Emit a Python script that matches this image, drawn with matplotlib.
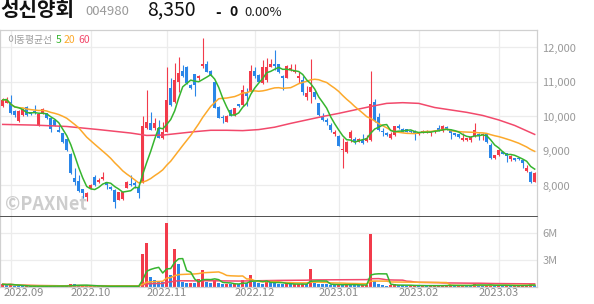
import numpy as np
import pandas as pd
import matplotlib
matplotlib.use('Agg')
import matplotlib.pyplot as plt
import matplotlib.transforms as mtransforms

plt.rcParams['font.family'] = ['Noto Sans CJK KR', 'DejaVu Sans']

# daily candles, 2022-08-30 .. 2023-03-15 (index = trading day)
opens = [10310, 10400, 10430, 10160, 9870, 10040, 10280, 10120, 10160, 9750,
         10090, 10090, 9950, 9900, 9610, 9510, 9350, 8920, 8230, 8130,
         7900, 7680, 7920, 8260, 8090, 8180, 8090, 7970, 7870, 7590,
         7610, 7940, 8030, 8060, 7970, 8090, 9660, 9800, 9660, 9680,
         9370, 9560, 10820, 10430, 11010, 11320, 11440, 10910, 11220, 11130,
         11470, 11510, 11320, 11010, 10280, 9990, 9850, 10190, 10040, 10350,
         10330, 10670, 10720, 11320, 11200, 10960, 11060, 11440, 11510, 11510,
         11170, 11130, 11350, 11280, 11110, 11060, 10570, 10700, 10700, 10380,
         9990, 9900, 9750, 9480, 9440, 9030, 8960, 9370, 9360, 9270,
         9320, 9290, 9320, 10410, 9990, 9580, 9530, 9390, 9460, 9720,
         9640, 9630, 9590, 9580, 9480, 9540, 9540, 9510, 9540, 9680,
         9580, 9700, 9610, 9510, 9480, 9310, 9310, 9320, 9420, 9500,
         9450, 9480, 9170, 8790, 8870, 8980, 8930, 8770, 8790, 8810,
         8740, 8420, 8380, 8110]
highs = [10530, 10560, 10620, 10180, 10180, 10240, 10300, 10140, 10330, 10080,
         10240, 10110, 9970, 9920, 9750, 9520, 9360, 8940, 8500, 8310,
         7910, 7820, 8030, 8300, 8210, 8380, 8110, 7990, 7900, 7820,
         7820, 8130, 8300, 8130, 8010, 10000, 10770, 10140, 9950, 9900,
         9850, 11420, 11110, 11540, 11730, 11490, 11460, 10930, 11230, 11200,
         12270, 11610, 11340, 11030, 10300, 10040, 10040, 10210, 10260, 10370,
         10910, 10820, 11490, 11440, 11220, 11640, 11690, 11670, 11930, 11530,
         11190, 11480, 11510, 11510, 11280, 11180, 10870, 11670, 10770, 10400,
         10090, 9950, 9800, 9610, 9460, 9370, 9290, 9610, 9400, 9370,
         9480, 9460, 11320, 10510, 10090, 9660, 9560, 9560, 9730, 9770,
         9660, 9650, 9610, 9610, 9560, 9600, 9600, 9580, 9610, 9750,
         9750, 9720, 9630, 9530, 9500, 9510, 9390, 9430, 9800, 9520,
         9510, 9500, 9220, 8890, 9060, 9000, 8950, 8870, 8810, 8830,
         8760, 8600, 8420, 8400]
lows = [10280, 10380, 10060, 9990, 9830, 10020, 10020, 10040, 10070, 9730,
        10070, 9930, 9540, 9710, 9540, 9220, 9010, 8330, 8020, 7820,
        7650, 7560, 7900, 7990, 8060, 8160, 7900, 7880, 7360, 7570,
        7590, 7920, 7980, 7920, 7630, 8070, 9640, 9600, 9610, 9370,
        9350, 9540, 10290, 10380, 10720, 11150, 10940, 10800, 10580, 11060,
        11400, 11280, 11160, 10240, 9950, 9800, 9830, 10000, 10020, 10270,
        10290, 10290, 10700, 11130, 10990, 10940, 11010, 11420, 11350, 11260,
        10770, 11110, 11330, 11250, 10980, 10620, 10480, 10380, 10510, 10020,
        9870, 9750, 9560, 9440, 9130, 8520, 8930, 9270, 9210, 9250,
        9210, 9270, 9300, 9850, 9580, 9440, 9420, 9350, 9440, 9640,
        9540, 9540, 9520, 9320, 9460, 9520, 9520, 9440, 9520, 9580,
        9560, 9620, 9350, 9440, 9390, 9290, 9290, 9270, 9400, 9320,
        9310, 9230, 8770, 8770, 8840, 8900, 8690, 8710, 8720, 8750,
        8520, 8400, 8070, 8090]
closes = [10480, 10500, 10090, 10040, 10160, 10220, 10040, 10060, 10090, 10060,
          10220, 9950, 9640, 9730, 9560, 9270, 9030, 8350, 8110, 7840,
          7770, 7780, 8010, 8010, 8160, 8240, 8010, 7900, 7530, 7800,
          7800, 8110, 8000, 8010, 7770, 9710, 9850, 9610, 9800, 9390,
          9560, 10480, 10330, 11060, 11250, 11180, 10960, 10820, 10910, 11160,
          11510, 11300, 11180, 10260, 9970, 9950, 10020, 10020, 10240, 10290,
          10770, 10580, 11320, 11160, 11010, 11420, 11440, 11510, 11470, 11280,
          11130, 11460, 11400, 11350, 11180, 10700, 10670, 10860, 10570, 10040,
          9900, 9830, 9610, 9560, 9150, 9060, 9250, 9560, 9260, 9350,
          9220, 9390, 10350, 9870, 9610, 9540, 9460, 9480, 9710, 9680,
          9560, 9560, 9540, 9480, 9540, 9580, 9580, 9560, 9590, 9610,
          9730, 9640, 9510, 9460, 9410, 9370, 9370, 9410, 9610, 9450,
          9490, 9250, 8810, 8870, 9030, 8920, 8840, 8840, 8740, 8770,
          8640, 8520, 8090, 8350]
volumes = [300, 250, 300, 120, 100, 90, 110, 80, 100, 90,
           100, 90, 120, 90, 80, 110, 120, 300, 280, 150,
           150, 140, 150, 100, 80, 90, 80, 70, 130, 90,
           80, 90, 100, 70, 90, 3630, 4820, 1110, 740, 560,
           500, 7100, 1300, 4200, 2500, 600, 450, 450, 400, 900,
           1850, 550, 400, 800, 450, 350, 350, 300, 350, 300,
           800, 400, 1300, 500, 400, 350, 800, 500, 450, 350,
           300, 400, 300, 300, 300, 350, 300, 1950, 400, 350,
           300, 280, 250, 200, 300, 250, 300, 280, 200, 180,
           200, 200, 5850, 700, 350, 200, 150, 200, 300, 200,
           180, 150, 150, 180, 150, 150, 120, 150, 150, 150,
           180, 200, 200, 150, 150, 200, 180, 150, 380, 200,
           150, 180, 250, 200, 200, 150, 180, 150, 150, 150,
           200, 200, 300, 250]  # thousand shares

# 60-day price average
ma60_idx = [0, 8, 16, 24, 32, 36, 40, 44, 48, 52, 56, 60, 64, 68, 72,
            76, 80, 84, 88, 92, 96, 100, 104, 108, 112, 116, 120, 124, 128, 133]
ma60_val = [9770, 9750, 9710, 9620, 9520, 9450, 9460, 9510, 9560, 9600, 9600,
            9590, 9620, 9690, 9800, 9900, 10000, 10090, 10190, 10290, 10380,
            10400, 10380, 10260, 10190, 10120, 10030, 9900, 9740, 9480]

month_pos = [2, 22, 41, 63, 84, 104, 124]
month_labels = ['2022.09', '2022.10', '2022.11', '2022.12',
                '2023.01', '2023.02', '2023.03']

RED = '#f23b4b'
BLUE = '#2a86e8'
GREEN = '#36b52f'
ORANGE = '#fca92b'
PINK = '#f2496b'
GRID = '#ececec'

o = np.array(opens, float)
h = np.array(highs, float)
l = np.array(lows, float)
c = np.array(closes, float)
v = np.array(volumes, float) * 1000
x = np.arange(len(c))

ma5 = pd.Series(c).rolling(5, min_periods=1).mean()
ma20 = pd.Series(c).rolling(20, min_periods=1).mean()
vma5 = pd.Series(v).rolling(5, min_periods=1).mean()
vma20 = pd.Series(v).rolling(20, min_periods=1).mean()
vma60 = pd.Series(v).rolling(60, min_periods=1).mean()

col = np.where(c >= o, RED, BLUE)
vcol = np.where(np.diff(v, prepend=0) >= 0, RED, BLUE)

W, H = 594, 304
fig = plt.figure(figsize=(W / 100, H / 100), dpi=100)
ax = fig.add_axes([0, 1 - 217 / H, 537 / W, 187 / H])
axv = fig.add_axes([0, 1 - 287 / H, 537 / W, 70 / H])

# price panel
ax.vlines(x, l, h, colors=col, lw=0.8, zorder=2)
ax.bar(x, np.maximum(np.abs(c - o), 20), bottom=np.minimum(o, c), width=0.74,
       color=col, linewidth=0, zorder=3)
ax.plot(ma60_idx, ma60_val, color=PINK, lw=1.1, zorder=4)
ax.plot(x, ma20, color=ORANGE, lw=1.1, zorder=4)
ax.plot(x, ma5, color=GREEN, lw=1.1, zorder=5)

ax.set_xlim(-0.68, 133.58)
ax.set_ylim(7086, 12507)
ax.set_yticks([8000, 9000, 10000, 11000, 12000])
ax.set_yticklabels([f'{t:,}' for t in [8000, 9000, 10000, 11000, 12000]])
ax.set_xticks(month_pos)
ax.set_xticklabels([])
ax.yaxis.tick_right()
ax.tick_params(length=0, labelsize=8, labelcolor='#9a9a9a', pad=4)
ax.grid(color=GRID, lw=0.9)
ax.set_axisbelow(True)
for s in ['top', 'left', 'right']:
    ax.spines[s].set_color('#d0d0d0')
    ax.spines[s].set_linewidth(0.9)
ax.spines['bottom'].set_color('#333333')
ax.spines['bottom'].set_linewidth(1.2)

ax.text(0.013, 0.948, '이동평균선', transform=ax.transAxes, fontsize=7,
        color='#999999', va='center')
ax.text(0.103, 0.948, '5', transform=ax.transAxes, fontsize=7.5,
        color=GREEN, va='center')
ax.text(0.118, 0.948, '20', transform=ax.transAxes, fontsize=7.5,
        color=ORANGE, va='center')
ax.text(0.146, 0.948, '60', transform=ax.transAxes, fontsize=7.5,
        color=PINK, va='center')
ax.text(0.009, 0.065, '©PAXNet', transform=ax.transAxes, fontsize=13,
        fontweight='bold', color='#cdcdcd', va='center', zorder=1)

# volume panel
axv.bar(x, v, width=0.74, color=vcol, linewidth=0, zorder=2)
axv.plot(x, vma60, color=PINK, lw=1.1, zorder=3)
axv.plot(x, vma20, color=ORANGE, lw=1.1, zorder=3)
axv.plot(x, vma5, color=GREEN, lw=1.1, zorder=4)
axv.set_xlim(-0.68, 133.58)
axv.set_ylim(0, 7.74e6)
axv.set_yticks([3e6, 6e6])
axv.set_yticklabels(['3M', '6M'])
axv.set_xticks(month_pos)
axv.set_xticklabels([])
axv.yaxis.tick_right()
axv.tick_params(length=0, labelsize=8, labelcolor='#9a9a9a', pad=4)
axv.grid(color=GRID, lw=0.9)
axv.set_axisbelow(True)
axv.spines['top'].set_visible(False)
for s in ['left', 'right', 'bottom']:
    axv.spines[s].set_color('#d0d0d0')
    axv.spines[s].set_linewidth(0.9)

trans = mtransforms.blended_transform_factory(axv.transData, axv.transAxes)
for i, (p, lab) in enumerate(zip(month_pos, month_labels)):
    if i == 0:
        axv.text(0.1, -0.09, lab, transform=trans, ha='left', va='center',
                 fontsize=8, color='#8a8a8a')
    else:
        axv.text(p, -0.09, lab, transform=trans, ha='center', va='center',
                 fontsize=8, color='#8a8a8a')


# header
def ftext(px, py, s, **kw):
    fig.text(px / W, 1 - py / H, s, va='center', **kw)


ftext(0, 10, '성신양회', fontsize=14.5, fontweight='bold', color='#111111')
ftext(85, 11.5, '004980', fontsize=9.5, color='#9a9a9a')
ftext(147, 10, '8,350', fontsize=14, color='#111111')
ftext(215, 12.5, '-', fontsize=11, fontweight='bold', color='#111111')
ftext(229, 12.5, '0', fontsize=10, fontweight='bold', color='#111111')
ftext(244, 12.5, '0.00%', fontsize=9.5, color='#222222')

fig.savefig('out.png', dpi=100)
